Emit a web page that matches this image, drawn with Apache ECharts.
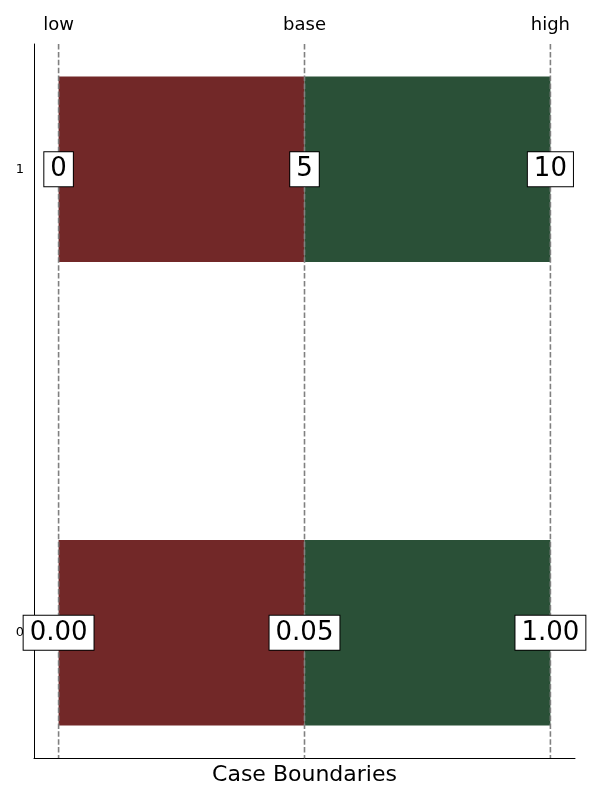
<!DOCTYPE html>
<html>
<head>
<meta charset="utf-8">
<script src="https://cdn.jsdelivr.net/npm/echarts@6/dist/echarts.min.js"></script>
<style>html,body{margin:0;padding:0;background:#fff}#c{width:600px;height:800px}</style>
</head>
<body>
<div id="c"></div>
<script>
// ---- data ----
const rows = ['0', '1'];                       // y categories (row positions 0,1)
const caseNames = ['low', 'base', 'high'];     // boundary names
const casePos = [0, 0.5, 1];                   // normalised boundary positions
const lowLabels = ['0.00', '0'];
const baseLabels = ['0.05', '5'];
const highLabels = ['1.00', '10'];
const barHeight = 0.4;

const X_MIN = -0.05, X_MAX = 1.05, Y_MIN = -0.27, Y_MAX = 1.27;
const RED = '#722828', GREEN = '#2a5037';

const redData = rows.map((r, i) => [i, casePos[0], casePos[1]]);
const greenData = rows.map((r, i) => [i, casePos[1], casePos[2]]);
const labelData = [];
rows.forEach((r, i) => {
  labelData.push([casePos[0], i, lowLabels[i]]);
  labelData.push([casePos[1], i, baseLabels[i]]);
  labelData.push([casePos[2], i, highLabels[i]]);
});

function barRender(color) {
  return function (params, api) {
    const y = api.value(0), x0 = api.value(1), x1 = api.value(2);
    const p0 = api.coord([x0, y + barHeight / 2]);
    const p1 = api.coord([x1, y - barHeight / 2]);
    return {
      type: 'rect',
      shape: { x: p0[0], y: p0[1], width: p1[0] - p0[0], height: p1[1] - p0[1] },
      style: { fill: color }
    };
  };
}

const chart = echarts.init(document.getElementById('c'), null, { renderer: 'canvas' });
const font = 'DejaVu Sans';
chart.setOption({
  animation: false,
  backgroundColor: '#fff',
  textStyle: { fontFamily: font },
  grid: { left: 34, right: 25, top: 44, bottom: 42, containLabel: false },
  xAxis: [{
    type: 'value', min: X_MIN, max: X_MAX, position: 'bottom',
    axisLine: { show: true, onZero: false, lineStyle: { color: '#000', width: 1 } },
    axisTick: { show: false }, axisLabel: { show: false }, splitLine: { show: false },
    name: 'Case Boundaries', nameLocation: 'middle', nameGap: 6,
    nameTextStyle: { fontFamily: font, fontSize: 22, color: '#000', verticalAlign: 'top' }
  }, {
    type: 'value', min: X_MIN, max: X_MAX, position: 'top',
    axisLine: { show: false },
    axisTick: { show: true, customValues: casePos, length: 6, lineStyle: { color: '#666', width: 1 } },
    axisLabel: {
      show: true, customValues: casePos, margin: 10,
      fontFamily: font, fontSize: 18, color: '#000',
      formatter: v => { const k = casePos.indexOf(v); return k >= 0 ? caseNames[k] : ''; }
    },
    splitLine: { show: false }
  }],
  yAxis: {
    type: 'value', min: Y_MIN, max: Y_MAX,
    axisLine: { show: true, onZero: false, lineStyle: { color: '#000', width: 1 } },
    axisTick: { show: false },
    axisLabel: {
      show: true, customValues: rows.map((r, i) => i), margin: 10,
      fontFamily: font, fontSize: 13, color: '#000',
      formatter: v => { const k = Math.round(v); return (Math.abs(v - k) < 1e-9 && rows[k] !== undefined) ? rows[k] : ''; }
    },
    splitLine: { show: false }
  },
  series: [
    { type: 'custom', renderItem: barRender(RED), data: redData, z: 1, encode: { x: [1, 2], y: 0 } },
    { type: 'custom', renderItem: barRender(GREEN), data: greenData, z: 1, encode: { x: [1, 2], y: 0 } },
    {
      type: 'custom', z: 3, clip: false,
      data: casePos.map(p => [p]),
      encode: { x: 0 },
      renderItem: function (params, api) {
        const x = api.value(0);
        const top = api.coord([x, Y_MAX]);
        const bot = api.coord([x, Y_MIN]);
        return {
          type: 'line',
          shape: { x1: top[0], y1: top[1], x2: bot[0], y2: bot[1] },
          style: { stroke: '#808080', lineWidth: 1.6, lineDash: [5.5, 2.4] }
        };
      }
    },
    {
      type: 'scatter', z: 5, symbolSize: 0, data: labelData,
      itemStyle: { opacity: 1 },
      emphasis: { disabled: true },
      label: {
        show: true, position: 'inside', opacity: 1,
        formatter: p => p.value[2],
        fontFamily: font, fontSize: 26, color: '#000',
        backgroundColor: '#fff', borderColor: '#000', borderWidth: 1,
        padding: [5, 6, 3, 6]
      }
    }
  ]
});
</script>
</body>
</html>
